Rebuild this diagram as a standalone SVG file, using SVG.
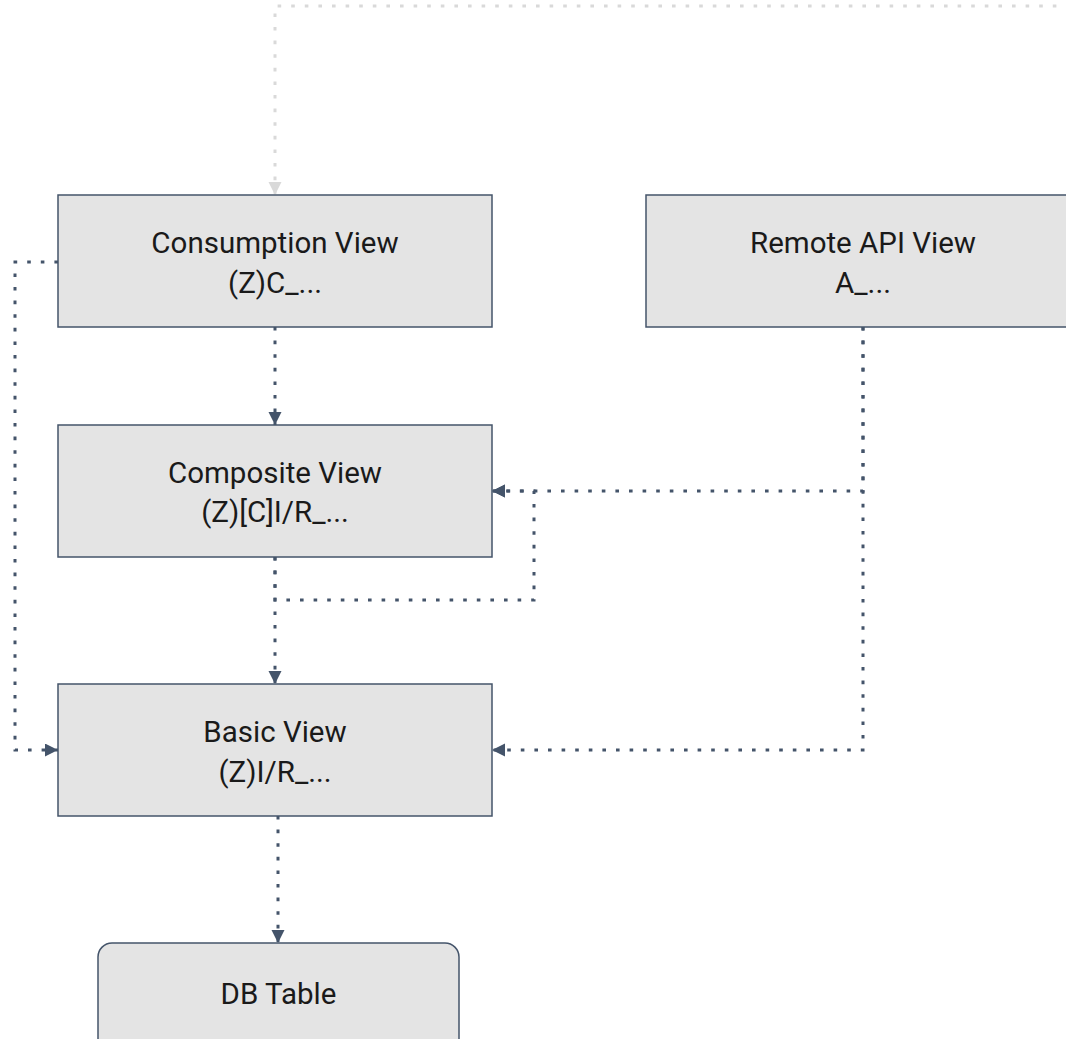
<svg xmlns="http://www.w3.org/2000/svg" width="1066" height="1039" viewBox="0 0 1066 1039">
  <defs>
    <style>
      .box { fill: #e4e4e4; stroke: #44546a; stroke-width: 1.5; }
      .label { font-family: Roboto, "Liberation Sans", sans-serif; font-size: 29.5px; fill: #1a1a1a; text-anchor: middle; }
      .link { fill: none; stroke: #44546a; stroke-width: 3; stroke-dasharray: 3.6 10; }
      .link-faint { fill: none; stroke: #d9d9d9; stroke-width: 3; stroke-dasharray: 3.6 10; }
    </style>
    <marker id="arrow" markerUnits="userSpaceOnUse" markerWidth="14" markerHeight="14" refX="13" refY="6.5" orient="auto">
      <path d="M0,0 L13,6.5 L0,13 z" fill="#44546a"/>
    </marker>
    <marker id="arrow-faint" markerUnits="userSpaceOnUse" markerWidth="14" markerHeight="14" refX="13" refY="6.5" orient="auto">
      <path d="M0,0 L13,6.5 L0,13 z" fill="#d9d9d9"/>
    </marker>
  </defs>

  <!-- connectors -->
  <g id="connectors">
    <path class="link-faint" d="M1070,6 H275 V195" marker-end="url(#arrow-faint)"/>
    <path class="link" d="M275,327 V425" marker-end="url(#arrow)"/>
    <path class="link" d="M58,262 H15 V750 H58" marker-end="url(#arrow)"/>
    <path class="link" d="M275,557 V684" marker-end="url(#arrow)"/>
    <path class="link" d="M275,557 V600 H534 V491 H492" marker-end="url(#arrow)"/>
    <path class="link" d="M863,327 V491 H492" marker-end="url(#arrow)"/>
    <path class="link" d="M863,327 V750 H492" marker-end="url(#arrow)"/>
    <path class="link" d="M278,816 V943" marker-end="url(#arrow)"/>
  </g>

  <!-- nodes -->
  <g id="consumption-view">
    <rect class="box" x="58" y="195" width="434" height="132"/>
    <text class="label" x="275" y="253">Consumption View</text>
    <text class="label" x="275" y="293">(Z)C_...</text>
  </g>

  <g id="remote-api-view">
    <rect class="box" x="646" y="195" width="434" height="132"/>
    <text class="label" x="863" y="253">Remote API View</text>
    <text class="label" x="863" y="293">A_...</text>
  </g>

  <g id="composite-view">
    <rect class="box" x="58" y="425" width="434" height="132"/>
    <text class="label" x="275" y="483">Composite View</text>
    <text class="label" x="275" y="522">(Z)[C]I/R_...</text>
  </g>

  <g id="basic-view">
    <rect class="box" x="58" y="684" width="434" height="132"/>
    <text class="label" x="275" y="742">Basic View</text>
    <text class="label" x="275" y="782">(Z)I/R_...</text>
  </g>

  <g id="db-table">
    <rect class="box" x="98" y="943" width="361" height="132" rx="14" ry="14"/>
    <text class="label" x="278.5" y="1004">DB Table</text>
  </g>
</svg>
